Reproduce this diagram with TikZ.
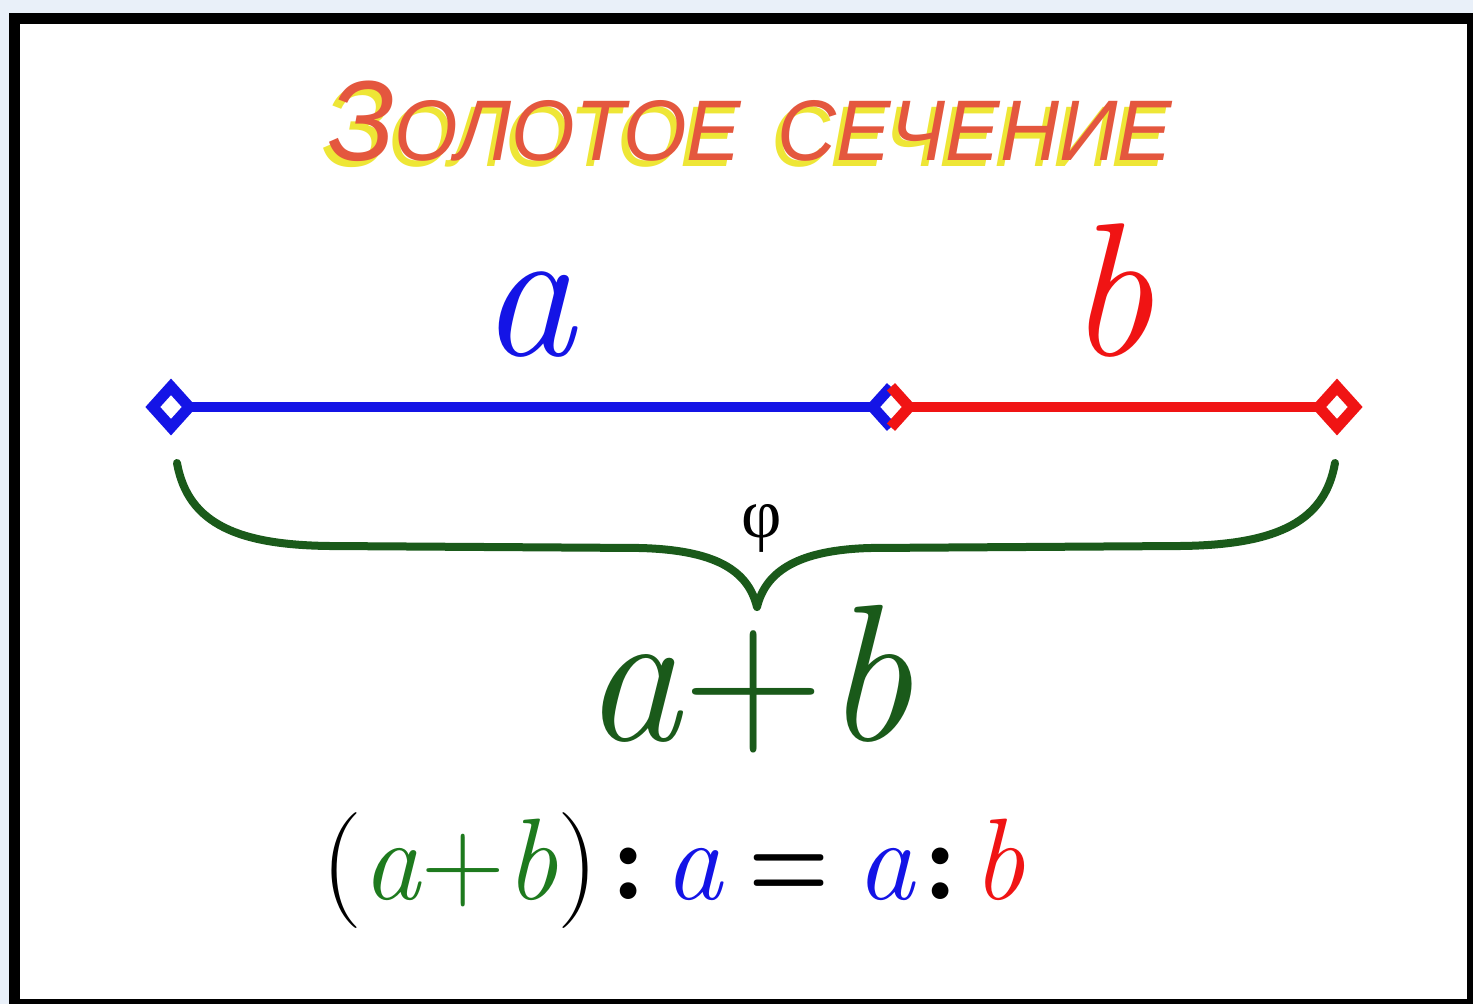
\documentclass[tikz,border=0pt]{standalone}
\usepackage{fontspec}
\usetikzlibrary{shapes.geometric}
\newfontfamily\titlefont{Liberation Sans}
\newfontfamily\phifont{Liberation Serif}
\definecolor{bgblue}{HTML}{E9F0F9}
\definecolor{tred}{HTML}{E4573E}
\definecolor{tyellow}{HTML}{EEE636}
\definecolor{lblue}{HTML}{1414E6}
\definecolor{lred}{HTML}{F01414}
\definecolor{dgreen}{HTML}{1A5A1A}
\definecolor{fgreen}{HTML}{1E7A1E}
\begin{document}
\begin{tikzpicture}[x=1pt,y=-1pt,
  dmd/.style={diamond,minimum width=36pt,minimum height=40pt,inner sep=0pt,fill=white},
  dmdline/.style={line width=11pt,line join=miter},
  segline/.style={line width=10pt},
  bracestyle/.style={draw=dgreen,line width=8pt,line cap=round,line join=round},
  titletext/.style={anchor=base west,inner sep=0pt},
  bigletter/.style={anchor=base,inner sep=0pt}]
\useasboundingbox (0,0) rectangle (1473,1004);
\fill[bgblue] (0,0) rectangle (1473,1004);
\fill[black] (9,13) rectangle (1473,1004);
\fill[white] (20,24) rectangle (1467,999);
% title
\newcommand{\titlestr}{\titlefont\itshape\scalebox{0.95}[1]{\fontsize{114}{114}\selectfont З\fontsize{86}{86}\selectfont ОЛОТОЕ\hspace{38pt}СЕЧЕНИЕ}}
\node[titletext,text=tyellow] (tshadow) at (322,166) {\titlestr};
\node[titletext,text=tred] (title) at (328,160) {\titlestr};
% segment
\node[dmd] (A) at (171,407) {};
\node[dmd] (M) at (891,407) {};
\node[dmd] (B) at (1337,407) {};
\draw[segline,draw=lblue] (A.east) -- (M.west);
\draw[segline,draw=lred] (M.east) -- (B.west);
\draw[dmdline,draw=lblue] (A.north) -- (A.east) -- (A.south) -- (A.west) -- cycle;
\draw[dmdline,draw=lred] (B.north) -- (B.east) -- (B.south) -- (B.west) -- cycle;
\draw[dmdline,draw=lblue] (M.north) -- (M.west) -- (M.south);
\draw[dmdline,draw=lred] (M.north) -- (M.east) -- (M.south);
% labels a, b
\node[bigletter,text=lblue] (la) at (528,355) {\fontsize{190}{190}\selectfont\itshape a};
\node[bigletter,text=lred] (lb) at (1110,355) {\fontsize{190}{190}\selectfont\itshape b};
% brace
\coordinate (bl) at (177,463);
\coordinate (br) at (1335,463);
\coordinate (tip) at (757,607);
\draw[bracestyle] (bl) .. controls (188,525) and (240,545) .. (330,546)
  -- (640,548) .. controls (715,550) and (748,570) .. (tip)
  .. controls (766,570) and (800,550) .. (870,548)
  -- (1180,546) .. controls (1280,545) and (1325,520) .. (br);
\node[inner sep=0pt,text=black] (phi) at (762,528) {\phifont\fontsize{70}{70}\selectfont φ};
% a+b
\node[bigletter,text=dgreen] (sum) at (748,740) {\fontsize{195}{195}\selectfont\itshape a\/\upshape+\itshape b};
% formula
\node[bigletter,inner sep=0pt] (formula) at (673,899) {\fontsize{116}{116}\selectfont
  \textcolor{black}{(}\textcolor{fgreen}{\itshape a\/\upshape+\itshape b\/}\textcolor{black}{)\hspace{12pt}\textbf{:}\hspace{18pt}}\textcolor{lblue}{\itshape a}\hspace{26pt}\textcolor{black}{\scalebox{0.8}[1]{\textbf{=}}}\hspace{26pt}\textcolor{lblue}{\itshape a}\textcolor{black}{\hspace{8pt}\textbf{:}\hspace{14pt}}\textcolor{lred}{\itshape b}};
\end{tikzpicture}
\end{document}
